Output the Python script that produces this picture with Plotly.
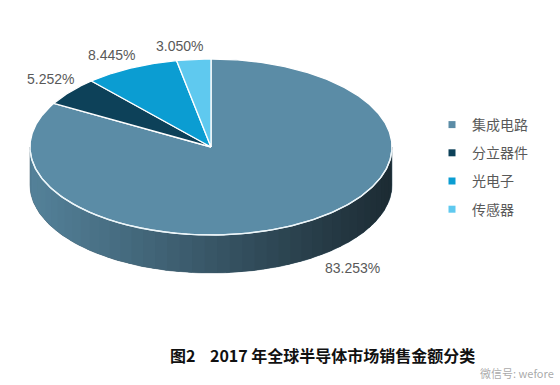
import numpy as np
import plotly.graph_objects as go

# ---- data ----
categories = ["集成电路", "分立器件", "光电子", "传感器"]
shares = [83.253, 5.252, 8.445, 3.050]
label_texts = [f"{v:.3f}%" for v in shares]
title_text = "图2\u00a0\u00a0\u00a0\u00a02017 年全球半导体市场销售金额分类"
watermark_text = "微信号: wefore"

# ---- style ----
colors = ["#5b8ca6", "#0d4159", "#0b9dd2", "#5fc9ef"]
CX, CY, RX, RY, DEPTH = 211, 147, 181, 88, 38
label_pos = [(352, 268), (50, 79), (111, 55), (179, 46)]
W, H = 560, 385


def ell(t_deg, dy=0.0):
    t = np.radians(t_deg)
    return CX + RX * np.sin(t), CY - RY * np.cos(t) + dy


def hex2rgb(h):
    h = h.lstrip("#")
    return tuple(int(h[i:i + 2], 16) for i in (0, 2, 4))


fig = go.Figure()

# angles from data (clockwise from 12 o'clock)
total = sum(shares)
bounds = np.concatenate([[0], np.cumsum(shares) / total * 360.0])

# ---- side (visible front half: 90..270 deg) ----
for i, c in enumerate(colors):
    a0, a1 = max(bounds[i], 90.0), min(bounds[i + 1], 270.0)
    if a1 <= a0:
        continue
    base = hex2rgb(c)
    # base layer under the gradient strips (hides seams)
    t = np.linspace(a0, a1, 120)
    xt, yt = ell(t)
    xb, yb = ell(t[::-1], DEPTH)
    midcol = "rgb(%d,%d,%d)" % tuple(int(v * 0.62) for v in base)
    fig.add_trace(go.Scatter(
        x=np.concatenate([xt, xb, xt[:1]]), y=np.concatenate([yt, yb, yt[:1]]),
        mode="lines", fill="toself", fillcolor=midcol,
        line=dict(color=midcol, width=0.5), hoverinfo="skip", showlegend=False))
    nseg = max(1, int((a1 - a0) / 4))
    edges = np.linspace(a0, a1, nseg + 1)
    for k in range(nseg):
        lo = edges[k]
        hi = min(edges[k + 1] + 1.2, a1)
        t = np.linspace(lo, hi, 8)
        xt, yt = ell(t)
        xb, yb = ell(t[::-1], DEPTH)
        xm, _ = ell((edges[k] + edges[k + 1]) / 2)
        u = (xm - (CX - RX)) / (2 * RX)
        f = 0.93 - 0.62 * u
        col = "rgb(%d,%d,%d)" % tuple(int(v * f) for v in base)
        fig.add_trace(go.Scatter(
            x=np.concatenate([xt, xb, xt[:1]]), y=np.concatenate([yt, yb, yt[:1]]),
            mode="lines", fill="toself", fillcolor=col,
            line=dict(width=0), hoverinfo="skip", showlegend=False))

# ---- top slices ----
for i, c in enumerate(colors):
    t = np.linspace(bounds[i], bounds[i + 1], max(4, int((bounds[i + 1] - bounds[i]) * 2)))
    xa, ya = ell(t)
    xs = np.concatenate([[CX], xa, [CX]])
    ys = np.concatenate([[CY], ya, [CY]])
    fig.add_trace(go.Scatter(
        x=xs, y=ys, mode="lines", fill="toself", fillcolor=c,
        line=dict(color="white", width=1.3), hoverinfo="skip", showlegend=False))

# front rim highlight
tr = np.linspace(92, 268, 200)
xr, yr = ell(tr)
fig.add_trace(go.Scatter(x=xr, y=yr, mode="lines",
                         line=dict(color="rgba(235,245,250,0.95)", width=1.4),
                         hoverinfo="skip", showlegend=False))

# ---- legend entries ----
for cat, c in zip(categories, colors):
    fig.add_trace(go.Scatter(x=[None], y=[None], mode="markers", name=cat,
                             legendgroup=cat,
                             marker=dict(symbol="square", size=7, color=c)))

# ---- labels ----
for txt, (lx, ly) in zip(label_texts, label_pos):
    fig.add_annotation(x=lx, y=ly, xref="x", yref="y", text=txt, showarrow=False,
                       font=dict(family="Liberation Sans, Arial", size=14, color="#595959"))

fig.add_annotation(x=168 / W, y=1 - 355 / H, xref="paper", yref="paper",
                   xanchor="left", yanchor="middle", showarrow=False,
                   text="<b>" + title_text + "</b>",
                   font=dict(family="Noto Sans CJK SC", size=16, color="#111111"))
fig.add_annotation(x=556 / W, y=1 - 373 / H, xref="paper", yref="paper",
                   xanchor="right", yanchor="middle", showarrow=False,
                   text=watermark_text,
                   font=dict(family="Noto Sans CJK SC", size=11, color="rgba(140,140,140,0.75)"))

fig.update_layout(
    width=W, height=H,
    margin=dict(l=0, r=0, t=0, b=0),
    paper_bgcolor="white", plot_bgcolor="white",
    xaxis=dict(range=[0, W], visible=False, fixedrange=True),
    yaxis=dict(range=[H, 0], visible=False, fixedrange=True),
    showlegend=True,
    legend=dict(x=432 / W, y=1 - 109 / H, xanchor="left", yanchor="top",
                font=dict(family="Noto Sans CJK SC", size=14, color="#595959"),
                tracegroupgap=7, itemwidth=30, bgcolor="rgba(0,0,0,0)"),
)

fig.write_html("out.html")
